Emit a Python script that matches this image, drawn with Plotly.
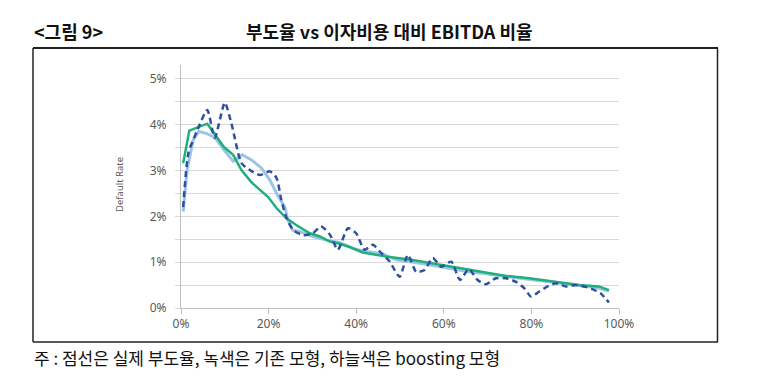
import plotly.graph_objects as go

# ---- data ----
x_actual = [0.5, 1.7, 3.6, 6.0, 7.7, 10.0, 11.5, 13.8, 15.7, 18.0, 20.3, 21.8, 22.9, 24.0, 25.6, 27.9,
            30.1, 32.0, 34.0, 35.8, 38.1, 40.0, 41.9, 43.8, 45.7, 47.6, 49.9, 51.8, 53.7, 55.6, 57.5,
            59.4, 61.7, 63.7, 65.7, 67.7, 69.6, 71.9, 74.2, 76.5, 78.4, 79.9, 81.8, 83.7, 85.6, 87.9,
            90.1, 92.0, 93.9, 95.8, 97.7]
y_actual = [2.2, 3.38, 3.85, 4.32, 3.71, 4.48, 4.03, 3.16, 3.01, 2.9, 2.98, 2.84, 2.36, 1.99, 1.70, 1.59,
            1.63, 1.78, 1.6, 1.27, 1.74, 1.63, 1.27, 1.38, 1.2, 1.02, 0.68, 1.16, 0.79, 0.83, 1.09,
            0.9, 1.01, 0.61, 0.85, 0.61, 0.52, 0.65, 0.65, 0.57, 0.43, 0.25, 0.36, 0.47, 0.54, 0.47,
            0.5, 0.47, 0.41, 0.32, 0.12]

x_base = [0.5, 1.9, 6.0, 7.7, 9.8, 11.9, 13.8, 16.1, 18.0, 19.9, 21.8, 24.0, 26.3, 29.4, 31.7, 34.0,
          36.2, 38.5, 41.5, 44.6, 47.6, 52.2, 60.5, 68.1, 74.2, 79.5, 85.6, 90.9, 95.4, 97.7]
y_base = [3.16, 3.87, 4.02, 3.78, 3.51, 3.34, 3.01, 2.74, 2.58, 2.42, 2.18, 1.96, 1.81, 1.63, 1.56, 1.45,
          1.40, 1.33, 1.21, 1.16, 1.11, 1.06, 0.92, 0.79, 0.70, 0.65, 0.57, 0.50, 0.47, 0.39]

x_boost = [0.5, 1.4, 2.8, 4.1, 5.8, 7.7, 9.8, 11.9, 14.0, 16.1, 18.4, 20.3, 22.2, 23.7, 24.4, 25.5, 27.1,
           30.1, 33.2, 36.2, 39.2, 42.3, 46.1, 49.1, 55.0, 60.0, 65.0, 70.0, 75.0, 80.0, 85.0, 90.0,
           95.0, 97.7]
y_boost = [2.1, 3.01, 3.67, 3.85, 3.81, 3.72, 3.45, 3.2, 3.34, 3.23, 3.05, 2.79, 2.43, 2.21, 1.92, 1.70, 1.67,
           1.56, 1.48, 1.43, 1.30, 1.23, 1.18, 1.05, 0.97, 0.88, 0.80, 0.74, 0.68, 0.63, 0.56, 0.50,
           0.44, 0.37]

x_tickvals = [0, 20, 40, 60, 80, 100]
x_ticktext = ["0%", "20%", "40%", "60%", "80%", "100%"]
y_tickvals = [0, 1, 2, 3, 4, 5]
y_ticktext = ["0%", "1%", "2%", "3%", "4%", "5%"]

title_left = "<그림 9>"
title_main = "부도율 vs 이자비용 대비 EBITDA 비율"
footnote = "주 : 점선은 실제 부도율, 녹색은 기존 모형, 하늘색은 boosting 모형"
y_title = "Default Rate"

# ---- layout geometry (page coordinates; the page body has an 8px margin) ----
OFF = 8
W, H = 767 - OFF, 376 - OFF
L, R, T, B = 181, 619, 65, 308


def px(xp):
    return (xp - L) / (R - L)


def py(yp):
    return (B - yp) / (B - T)


fig = go.Figure()
fig.add_trace(go.Scatter(x=x_boost, y=y_boost, mode="lines",
                         line=dict(color="#9DC3E6", width=3), name="boosting"))
fig.add_trace(go.Scatter(x=x_base, y=y_base, mode="lines",
                         line=dict(color="#1FAF7C", width=2.5), name="기존"))
fig.add_trace(go.Scatter(x=x_actual, y=y_actual, mode="lines",
                         line=dict(color="#2E509E", width=2.5, dash="6px,4px", shape="spline",
                                   smoothing=0.6),
                         name="실제"))

tick_font = dict(family="Noto Sans", size=12, color="#595959")
fig.update_layout(
    width=W, height=H,
    margin=dict(l=L - OFF, r=(767 - R), t=T - OFF, b=(376 - B), pad=0),
    paper_bgcolor="white", plot_bgcolor="white",
    showlegend=False,
    xaxis=dict(range=[0, 100], tickvals=x_tickvals, ticktext=x_ticktext, showgrid=False,
               zeroline=False, showline=True, linecolor="#BFBFBF", linewidth=1,
               ticks="outside", ticklen=5, tickcolor="#BFBFBF", tickfont=tick_font),
    yaxis=dict(range=[0, 5.3], tickvals=y_tickvals, ticktext=y_ticktext, showgrid=True,
               gridcolor="#D9D9D9", gridwidth=1, zeroline=False, showline=True,
               linecolor="#BFBFBF", linewidth=1, ticks="outside", ticklen=5,
               tickcolor="#D9D9D9", tickfont=tick_font, ticklabelstandoff=6,
               minor=dict(dtick=0.5, showgrid=True, gridcolor="#D9D9D9", gridwidth=1,
                          ticks="outside", ticklen=5, tickcolor="#D9D9D9")),
)

line_col = "#222222"
fig.add_shape(type="line", xref="paper", yref="paper", x0=px(33), x1=px(718), y0=py(48), y1=py(48),
              line=dict(color=line_col, width=2))
fig.add_shape(type="line", xref="paper", yref="paper", x0=px(33), x1=px(33), y0=py(48), y1=py(342),
              line=dict(color=line_col, width=1.5))
fig.add_shape(type="line", xref="paper", yref="paper", x0=px(717.5), x1=px(717.5), y0=py(48), y1=py(342),
              line=dict(color=line_col, width=1.5))
fig.add_shape(type="line", xref="paper", yref="paper", x0=px(33), x1=px(718), y0=py(342), y1=py(342),
              line=dict(color=line_col, width=1.5))

kfont = "Noto Sans CJK KR"
fig.add_annotation(xref="paper", yref="paper", x=px(32), y=py(31), xanchor="left", yanchor="middle",
                   text="<b>" + title_left.replace("<", "&lt;").replace(">", "&gt;") + "</b>",
                   showarrow=False, font=dict(family=kfont, size=18, color="#111111"))
fig.add_annotation(xref="paper", yref="paper", x=px(389), y=py(31), xanchor="center", yanchor="middle",
                   text="<b>" + title_main + "</b>", showarrow=False,
                   font=dict(family=kfont, size=18, color="#111111"))
fig.add_annotation(xref="paper", yref="paper", x=px(32), y=py(357), xanchor="left", yanchor="middle",
                   text=footnote, showarrow=False, font=dict(family=kfont, size=17, color="#111111"))
fig.add_annotation(xref="paper", yref="paper", x=px(119), y=py(185), xanchor="center", yanchor="middle",
                   text=y_title, textangle=-90, showarrow=False,
                   font=dict(family="Noto Sans", size=9.5, color="#595959"))

fig.write_html("out.html")
